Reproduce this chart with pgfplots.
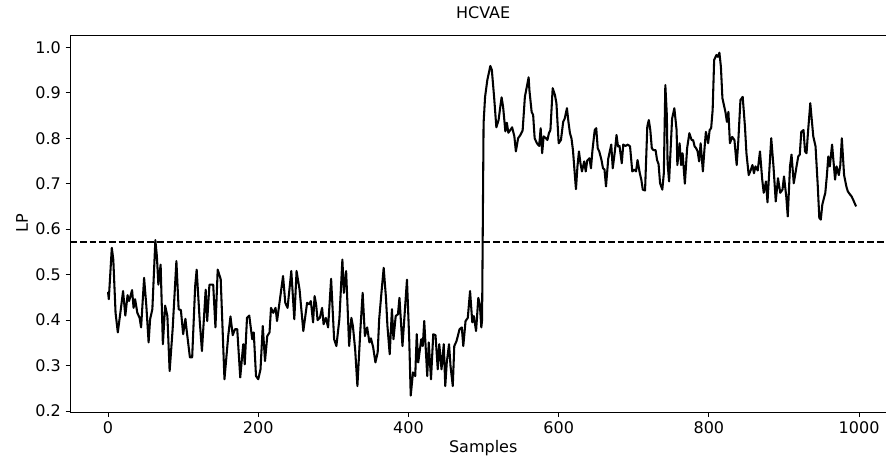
\documentclass[border=0pt]{standalone}
\usepackage{pgfplots}
\pgfplotsset{compat=1.18}
\usepackage{fontspec}
\setmainfont{DejaVu Sans}
\begin{document}
\begin{tikzpicture}
\useasboundingbox (0,0) rectangle (664.5pt,342pt);
\begin{axis}[
  at={(52.9pt,33pt)}, anchor=south west,
  scale only axis, width=619pt, height=282.75pt,
  xmin=-49.95, xmax=1048.95, ymin=0.198, ymax=1.027,
  xtick={0,200,400,600,800,1000},
  ytick={0.2,0.3,0.4,0.5,0.6,0.7,0.8,0.9,1.0},
  xticklabel style={/pgf/number format/.cd, 1000 sep={}},
  yticklabel style={/pgf/number format/.cd, fixed, fixed zerofill, precision=1},
  /pgf/number format/assume math mode=true,
  tick align=outside, major tick length=3.7pt,
  xtick pos=bottom, ytick pos=left,
  tick style={black, line width=0.6pt},
  axis line style={line width=0.6pt},
  ticklabel style={font=\fontsize{12}{14}\selectfont},
  title={HCVAE},
  title style={at={(axis description cs:0.5,1)}, anchor=base, yshift=6.5pt, font=\fontsize{12}{14}\selectfont},
  xlabel={Samples},
  xlabel style={at={(axis description cs:0.5,0)}, anchor=base, yshift=-30.5pt, font=\fontsize{12}{14}\selectfont},
  ylabel={LP},
  ylabel style={at={(axis description cs:-0.0588,0.5)}, anchor=center, font=\fontsize{12}{14}\selectfont},
]
\addplot[black, line width=1.55pt, line join=round, mark=none] coordinates {
(0,0.462)(1,0.446)(5,0.559)(7,0.533)(10,0.416)(13,0.373)(17,0.424)(20,0.464)(23,0.410)(26,0.455)
(28,0.442)(32,0.466)(34,0.427)(36,0.446)(39,0.416)(42,0.405)(44,0.384)(48,0.493)(51,0.431)(54,0.351)
(56,0.402)(59,0.424)(63,0.576)(65,0.541)(67,0.478)(70,0.522)(73,0.347)(76,0.432)(79,0.409)(82,0.288)
(86,0.380)(91,0.530)(94,0.424)(97,0.422)(100,0.369)(103,0.403)(105,0.373)(109,0.318)(112,0.318)(116,0.475)
(118,0.511)(122,0.400)(125,0.332)(130,0.467)(132,0.398)(135,0.478)(140,0.478)(143,0.384)(146,0.511)(150,0.490)
(155,0.270)(160,0.365)(163,0.408)(166,0.367)(169,0.380)(172,0.380)(176,0.274)(180,0.347)(182,0.303)(185,0.405)
(188,0.410)(192,0.358)(194,0.373)(197,0.277)(200,0.270)(203,0.292)(206,0.387)(209,0.310)(212,0.365)(215,0.373)
(217,0.427)(220,0.416)(223,0.427)(225,0.398)(228,0.435)(233,0.497)(236,0.438)(239,0.427)(244,0.508)(248,0.402)
(251,0.508)(255,0.467)(260,0.376)(265,0.438)(268,0.435)(270,0.442)(273,0.395)(275,0.453)(277,0.435)(279,0.400)
(282,0.405)(285,0.427)(287,0.391)(290,0.405)(293,0.384)(297,0.491)(301,0.358)(304,0.343)(308,0.402)(312,0.533)
(314,0.460)(317,0.508)(321,0.343)(324,0.405)(326,0.387)(329,0.336)(332,0.255)(336,0.380)(339,0.460)(342,0.365)
(345,0.384)(348,0.351)(350,0.360)(353,0.340)(356,0.307)(359,0.329)(361,0.402)(364,0.460)(367,0.515)(370,0.450)
(372,0.387)(375,0.325)(378,0.424)(380,0.358)(383,0.409)(386,0.413)(388,0.449)(392,0.343)(398,0.489)(401,0.358)
(403,0.234)(406,0.285)(409,0.277)(411,0.369)(413,0.307)(417,0.358)(419,0.343)(421,0.398)(425,0.277)(427,0.351)
(430,0.270)(433,0.369)(436,0.367)(439,0.292)(441,0.347)(444,0.292)(447,0.347)(449,0.255)(451,0.307)(454,0.347)
(456,0.299)(459,0.255)(461,0.343)(464,0.354)(468,0.380)(471,0.384)(473,0.343)(476,0.398)(479,0.405)(482,0.464)
(485,0.395)(487,0.409)(490,0.376)(493,0.449)(495,0.435)(497,0.384)(498,0.400)(500,0.833)(502,0.891)(505,0.928)
(509,0.959)(511,0.950)(514,0.891)(517,0.824)(520,0.840)(522,0.866)(524,0.890)(526,0.869)(529,0.815)(531,0.834)
(533,0.812)(536,0.819)(538,0.824)(541,0.804)(543,0.771)(546,0.800)(549,0.807)(552,0.817)(555,0.891)(560,0.934)
(561,0.906)(564,0.858)(566,0.851)(568,0.800)(571,0.789)(574,0.783)(576,0.822)(578,0.767)(580,0.804)(583,0.800)
(585,0.796)(587,0.811)(589,0.818)(592,0.910)(595,0.895)(597,0.877)(600,0.789)(603,0.796)(606,0.836)(608,0.843)
(611,0.866)(613,0.836)(615,0.811)(617,0.800)(619,0.774)(622,0.709)(623,0.688)(625,0.738)(627,0.771)(629,0.745)
(631,0.727)(634,0.749)(636,0.727)(638,0.751)(641,0.756)(643,0.734)(645,0.774)(648,0.818)(650,0.822)(652,0.778)
(654,0.771)(657,0.752)(659,0.734)(661,0.731)(663,0.694)(666,0.755)(670,0.786)(672,0.734)(675,0.774)(677,0.807)
(679,0.782)(681,0.783)(684,0.745)(686,0.786)(689,0.783)(692,0.786)(695,0.782)(698,0.727)(701,0.731)(703,0.727)
(705,0.752)(708,0.723)(710,0.709)(712,0.687)(715,0.685)(718,0.826)(720,0.840)(722,0.818)(724,0.778)(726,0.774)
(729,0.774)(731,0.752)(733,0.743)(735,0.701)(738,0.687)(740,0.723)(742,0.917)(744,0.851)(745,0.745)(747,0.705)
(751,0.843)(754,0.866)(757,0.818)(758,0.741)(761,0.789)(763,0.741)(765,0.767)(768,0.700)(771,0.778)(774,0.811)
(777,0.796)(779,0.796)(781,0.782)(783,0.778)(785,0.771)(787,0.749)(789,0.789)(792,0.727)(794,0.774)(796,0.814)
(799,0.789)(801,0.818)(803,0.822)(805,0.862)(807,0.972)(810,0.983)(812,0.979)(814,0.988)(816,0.957)(818,0.888)
(822,0.858)(824,0.836)(826,0.858)(828,0.789)(831,0.803)(834,0.796)(837,0.741)(839,0.789)(842,0.884)(845,0.891)
(848,0.826)(850,0.767)(853,0.719)(856,0.731)(858,0.741)(860,0.723)(862,0.738)(865,0.729)(868,0.771)(871,0.709)
(873,0.680)(876,0.705)(878,0.659)(883,0.800)(886,0.738)(889,0.661)(892,0.712)(895,0.680)(898,0.687)(900,0.716)
(903,0.672)(905,0.628)(908,0.738)(910,0.764)(913,0.701)(917,0.741)(919,0.760)(921,0.764)(923,0.814)(926,0.818)
(928,0.771)(930,0.767)(932,0.814)(935,0.877)(937,0.840)(939,0.804)(942,0.782)(945,0.694)(947,0.625)(949,0.621)
(951,0.654)(955,0.680)(957,0.716)(959,0.760)(961,0.738)(964,0.786)(968,0.709)(970,0.738)(973,0.719)(975,0.741)
(977,0.800)(980,0.719)(983,0.694)(985,0.683)(988,0.676)(990,0.672)(992,0.665)(996,0.650)
};
\addplot[black, line width=1.55pt, dash pattern=on 5pt off 2.2pt, mark=none] coordinates {(-49.95,0.571)(1048.95,0.571)};
\end{axis}
\end{tikzpicture}
\end{document}
